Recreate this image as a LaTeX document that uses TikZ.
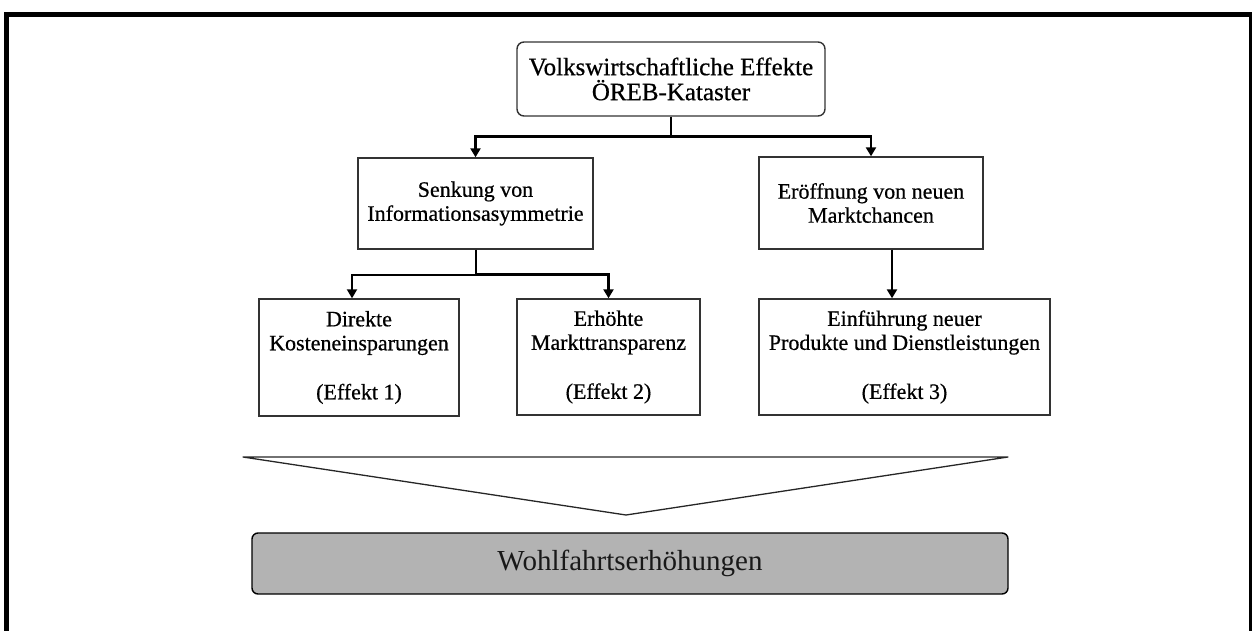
\documentclass[tikz,border=0pt]{standalone}
\usepackage{fontspec}
\setmainfont{Liberation Serif}
\newfontfamily\boxfont[FakeBold=0.6]{Liberation Serif}
\usetikzlibrary{arrows.meta}
\begin{document}
\begin{tikzpicture}[x=1pt,y=-1pt,
  box/.style={draw=black!80, line width=1.4pt, fill=white, inner sep=0pt, align=center,
              font=\boxfont\fontsize{22}{24}\selectfont, text=black},
  conn/.style={draw=black, line width=2.5pt},
  thinconn/.style={draw=black, line width=2pt},
  tip/.style={-{Triangle[width=10pt,length=9pt]}},
  frameline/.style={draw=black, line width=5pt},
]
\useasboundingbox (0,0) rectangle (1252,631);
\begin{scope}
  \clip (0,0) rectangle (1252,631);
  \draw[frameline] (6.5,700) -- (6.5,14.5) -- (1251.5,14.5) -- (1251.5,700);
\end{scope}

\node[box, rounded corners=7pt, minimum width=308pt, minimum height=74pt,
      font=\boxfont\fontsize{25}{25}\selectfont] (top) at (671,79)
      {Volkswirtschaftliche Effekte\\ÖREB-Kataster};
\node[box, minimum width=235pt, minimum height=91pt] (senk) at (475.5,203.5)
      {Senkung von\\Informationsasymmetrie};
\node[box, minimum width=224pt, minimum height=92pt] (eroef) at (871,203)
      {Eröffnung von neuen\\Marktchancen};
\node[box, minimum width=200pt, minimum height=117pt] (dir) at (359,357.5)
      {Direkte\\Kosteneinsparungen\\[25pt](Effekt 1)};
\node[box, minimum width=183pt, minimum height=116pt] (erh) at (608.5,357)
      {Erhöhte\\Markttransparenz\\[25pt](Effekt 2)};
\node[box, minimum width=291pt, minimum height=116pt] (einf) at (904.5,357)
      {Einführung neuer\\Produkte und Dienstleistungen\\[25pt](Effekt 3)};

\draw[conn] (top.south) -- ++(0,20) coordinate (j1);
\draw[conn,tip] (j1) -| (senk.north);
\draw[conn,tip] (j1) -| (eroef.north);
\draw[conn] ([xshift=0.5pt]senk.south) -- ++(0,25) coordinate (j2);
\draw[thinconn,tip] (j2) -| ([xshift=-7pt]dir.north);
\draw[conn,tip] (j2) -| (erh.north);
\draw[conn,tip] ([xshift=21pt]eroef.south) -- ([xshift=21pt]eroef.south |- einf.north);

\draw[line width=1.3pt, draw=black!85, line join=round] (243,457) -- (1008,457) -- (626,515) -- cycle;

\node[draw=black, line width=1.4pt, fill={rgb,255:red,179;green,179;blue,179},
      rounded corners=6pt, minimum width=756pt, minimum height=61pt, inner sep=0pt,
      font=\fontsize{29}{29}\selectfont, text=black!90] (wohl) at (630,563.5)
      {Wohlfahrtserhöhungen};
\end{tikzpicture}
\end{document}
